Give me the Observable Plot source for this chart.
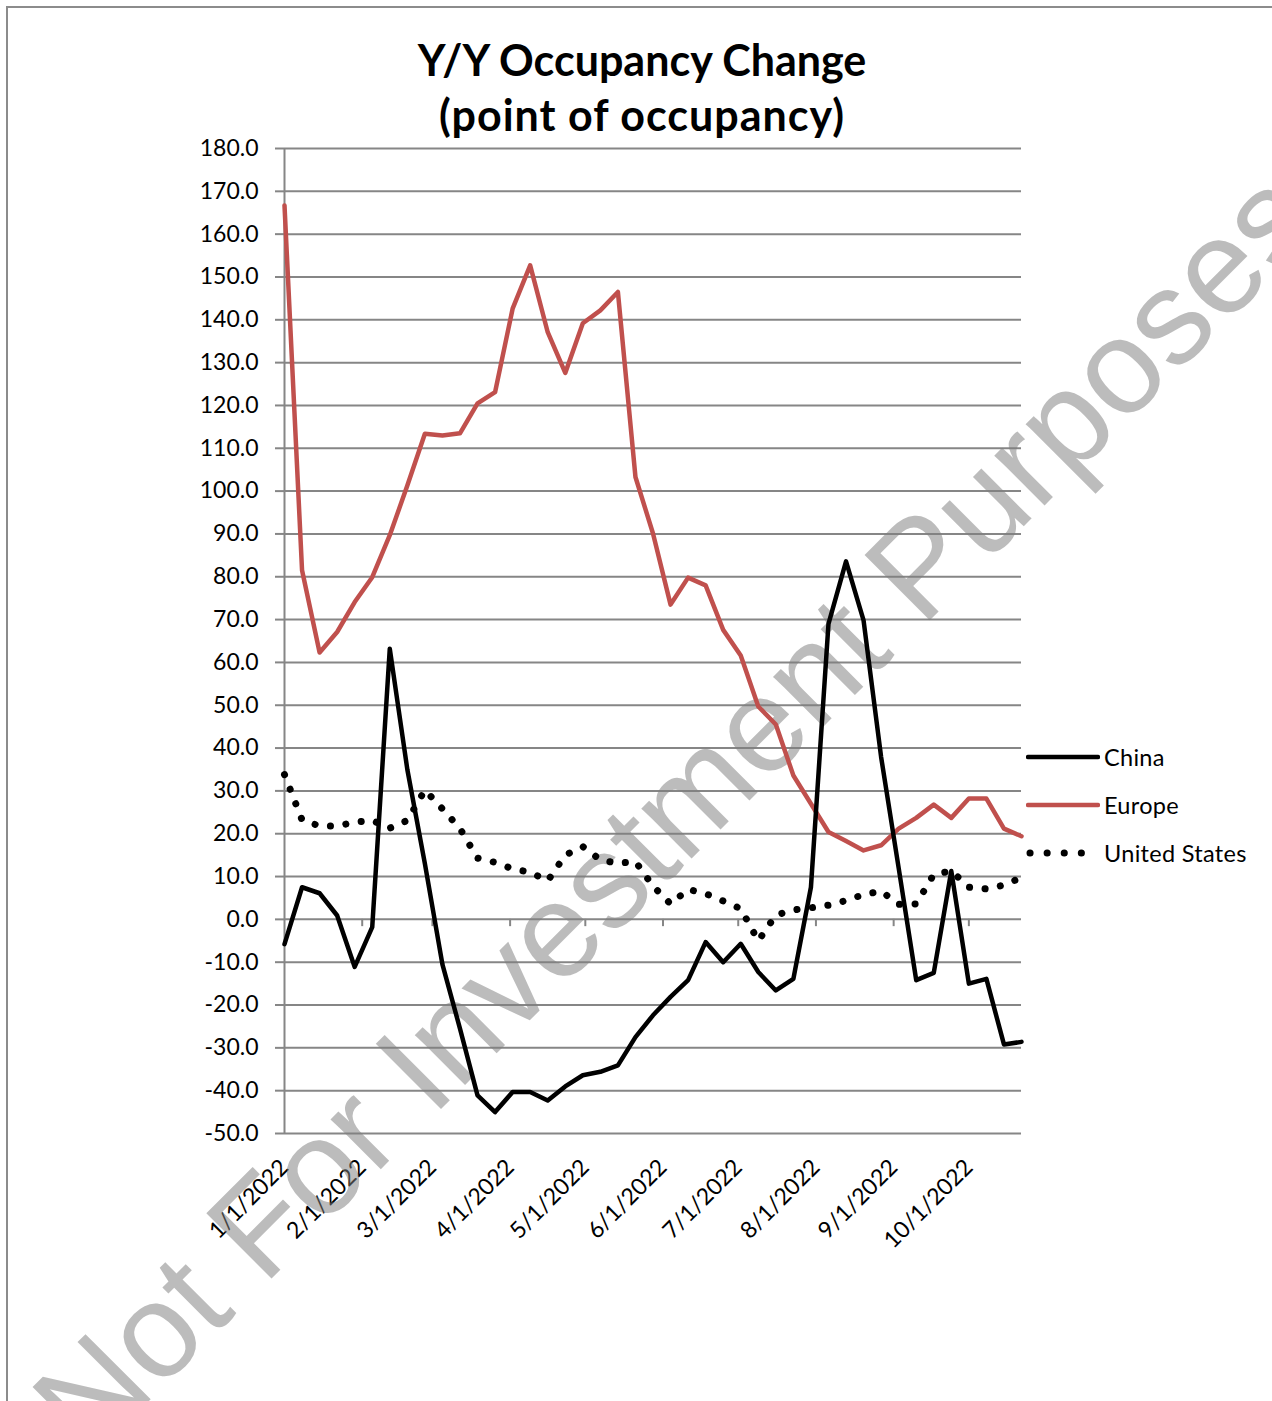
<!DOCTYPE html>
<html>
<head>
<meta charset="utf-8">
<script src="https://cdn.jsdelivr.net/npm/d3@7"></script>
<script src="https://cdn.jsdelivr.net/npm/@observablehq/plot@0.6"></script>
<style>
  html, body { margin: 0; padding: 0; background: #fff; }
  #wrap { position: relative; width: 1272px; height: 1401px; overflow: hidden; background: #fff; font-family: Lato, "Open Sans", sans-serif; }
  #frame { position: absolute; left: 6px; top: 6px; width: 2000px; height: 2000px; border-left: 2px solid #8c8c8c; border-top: 2px solid #8c8c8c; pointer-events: none; }
  #title { position: absolute; left: 0; width: 1284px; top: 32px; text-align: center; font-family: Lato, sans-serif; font-weight: 700; font-size: 43px; line-height: 55px; color: #000; z-index: 2; }
  #title .l2 { letter-spacing: 1px; }
  #chart { position: absolute; left: 0; top: 0; }
  .leg { position: absolute; left: 1026px; height: 24px; display: flex; align-items: center; font-family: Lato, sans-serif; font-size: 23.5px; color: #000; z-index: 2; }
  .leg svg { display: block; }
  .leg span { margin-left: 4px; line-height: 24px; letter-spacing: 0.3px; }
</style>
</head>
<body>
<div id="wrap">
  <div id="frame"></div>
  <div id="chart"></div>
  <div id="title">Y/Y Occupancy Change<br><span class="l2">(point of occupancy)</span></div>
  <div id="legend"></div>
</div>
<script>
// ---- Data (weekly, starting 1/1/2022) ----
const startDate = "2022-01-01";
const weekCount = 43;

const chinaValues = [-5.8, 7.5, 6.1, 0.9, -11.1, -1.8, 63.2, 35.0, 13.0, -10.5, -25.5, -41.1, -45.0, -40.3, -40.3, -42.3, -39.0, -36.4, -35.6, -34.1, -27.5, -22.4, -18.1, -14.2, -5.3, -10.0, -5.7, -12.3, -16.6, -13.9, 7.5, 69.0, 83.6, 69.8, 37.9, 12.0, -14.2, -12.5, 11.3, -15.0, -13.9, -29.2, -28.6];

const europeValues = [166.7, 81.5, 62.3, 67.1, 74.1, 79.9, 89.7, 101.3, 113.4, 113.0, 113.5, 120.5, 123.1, 142.6, 152.7, 137.1, 127.6, 139.2, 142.2, 146.5, 103.3, 90.1, 73.5, 79.8, 78.0, 67.6, 61.6, 49.7, 45.5, 33.6, 27.0, 20.4, 18.3, 16.1, 17.3, 21.2, 23.7, 26.8, 23.7, 28.2, 28.2, 21.2, 19.4];

const usValues = [33.8, 23.2, 21.8, 21.8, 22.7, 23.1, 21.3, 23.1, 30.2, 25.8, 21.2, 14.3, 13.3, 11.8, 11.0, 9.0, 15.0, 17.0, 13.9, 13.1, 13.5, 7.8, 3.6, 7.0, 6.0, 4.3, 2.5, -5.0, 1.0, 2.2, 2.7, 3.3, 4.4, 5.8, 6.6, 3.5, 3.6, 10.5, 11.3, 7.5, 7.1, 8.0, 9.8];

const seriesNames = ["China", "Europe", "United States"];
const seriesColors = ["#000000", "#c0504d", "#000000"];

const monthTickLabels = ["1/1/2022", "2/1/2022", "3/1/2022", "4/1/2022", "5/1/2022", "6/1/2022", "7/1/2022", "8/1/2022", "9/1/2022", "10/1/2022"];
const yTickValues = d3.range(-50, 181, 10);
const watermarkText = "Not For Investment Purposes";

// ---- Build tables ----
const parseMDY = d3.utcParse("%m/%d/%Y");
const monthTicks = monthTickLabels.map(parseMDY);
const start = new Date(startDate + "T00:00:00Z");
const dates = d3.range(weekCount).map(i => d3.utcDay.offset(start, 7 * i));
const toRows = (vals, name) => vals.map((v, i) => ({date: dates[i], value: v, series: name}));
const china = toRows(chinaValues, seriesNames[0]);
const europe = toRows(europeValues, seriesNames[1]);
const us = toRows(usValues, seriesNames[2]);

const fmtY = d => d.toFixed(1);
const fmtX = d3.utcFormat("%-m/%-d/%Y");
const gridColor = "#868686";

const chart = Plot.plot({
  width: 1272,
  height: 1401,
  marginLeft: 284,
  marginRight: 251,
  marginTop: 148,
  marginBottom: 268,
  style: {fontFamily: "Lato, sans-serif", fontSize: "23px", color: "#000", background: "transparent", overflow: "visible"},
  x: {type: "utc", domain: [dates[0], dates[dates.length - 1]]},
  y: {domain: [-50, 180]},
  marks: [
    Plot.gridY(yTickValues, {stroke: gridColor, strokeOpacity: 1, strokeWidth: 2}),
    Plot.ruleX([dates[0]], {stroke: gridColor, strokeWidth: 2}),
    Plot.ruleX(monthTicks.slice(1), {y1: 0, y2: -1.7, stroke: gridColor, strokeWidth: 2}),
    Plot.axisY({ticks: yTickValues, tickSize: 9, tickPadding: 17, tickFormat: fmtY, stroke: gridColor, strokeWidth: 2, fontSize: 23, label: null}),
    Plot.axisX({ticks: monthTicks, tickSize: 0, tickPadding: 30, tickRotate: -45, tickFormat: fmtX, fontSize: 23, label: null}),
    Plot.line(us, {x: "date", y: "value", stroke: seriesColors[2], strokeWidth: 7, strokeDasharray: "0.1 15.5", strokeLinecap: "round", strokeLinejoin: "round"}),
    Plot.line(europe, {x: "date", y: "value", stroke: seriesColors[1], strokeWidth: 4.5, strokeLinejoin: "round", strokeLinecap: "round"}),
    Plot.line(china, {x: "date", y: "value", stroke: seriesColors[0], strokeWidth: 4.5, strokeLinejoin: "round", strokeLinecap: "round"})
  ]
});
document.getElementById("chart").appendChild(chart);

// Watermark, beneath the data lines
d3.select(chart).insert("text", 'g[aria-label="line"]')
  .attr("x", 90).attr("y", 1460)
  .attr("transform", "rotate(-45, 90, 1460)")
  .attr("text-anchor", "start")
  .attr("font-family", "'Liberation Sans', Arial, sans-serif")
  .attr("font-size", 134)
  .attr("fill", "#7f7f7f")
  .attr("fill-opacity", 0.52)
  .text(watermarkText);

// Legend
const legendTops = [757, 805, 853];
const legend = document.getElementById("legend");
seriesNames.forEach((name, i) => {
  const row = document.createElement("div");
  row.className = "leg";
  row.style.top = (legendTops[i] - 12) + "px";
  const dotted = i === 2;
  row.innerHTML = `<svg width="74" height="24"><line x1="${dotted ? 4 : 2}" x2="72" y1="12" y2="12" stroke="${seriesColors[i]}" stroke-width="${dotted ? 7 : 4.5}" stroke-linecap="round" ${dotted ? 'stroke-dasharray="0.1 17"' : ''}/></svg><span>${name}</span>`;
  legend.appendChild(row);
});
</script>
</body>
</html>
